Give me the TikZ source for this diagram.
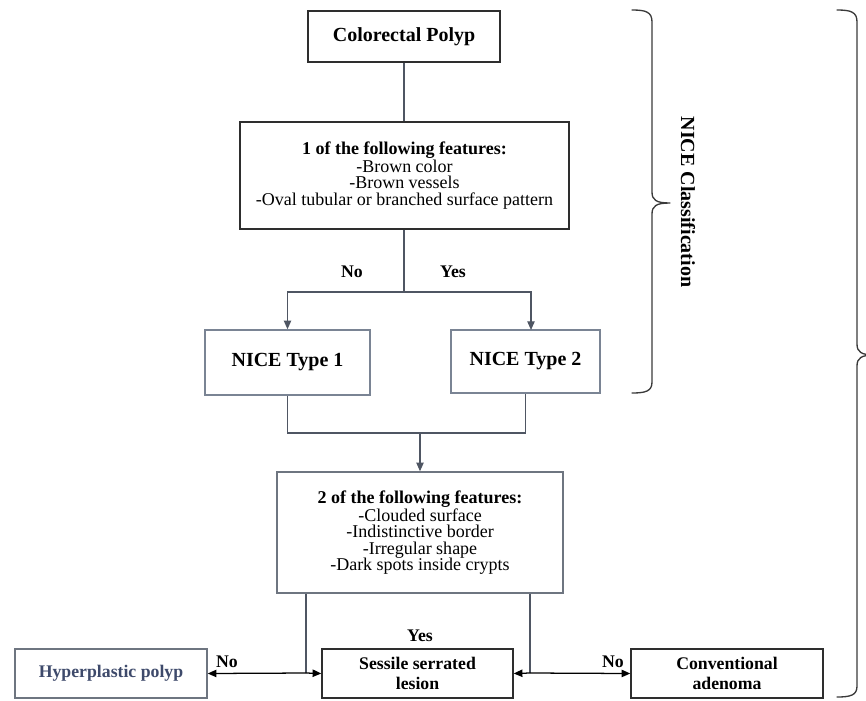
\documentclass[tikz,border=0pt]{standalone}
\usepackage{fontspec}
\setmainfont{Liberation Serif}
\usetikzlibrary{arrows.meta,calc}
\definecolor{linec}{HTML}{4F5663}
\definecolor{boxdark}{HTML}{2E2E2E}
\definecolor{boxblue}{HTML}{7A8494}
\definecolor{boxgray}{HTML}{6E7580}
\definecolor{hptext}{HTML}{3E4A6B}
\definecolor{bracec}{HTML}{3A3A3A}
\tikzset{
  box/.style={draw=boxdark, line width=1.1pt, inner sep=0pt, align=center, fill=white},
  bigfont/.style={font=\fontsize{15}{17}\selectfont\bfseries},
  featfont/.style={font=\fontsize{13.5}{12.3}\selectfont},
  botfont/.style={font=\fontsize{13.3}{15}\selectfont\bfseries},
  lbl/.style={font=\fontsize{13.3}{15}\selectfont\bfseries, inner sep=0pt},
  conn/.style={draw=linec, line width=0.95pt},
  arr/.style={conn, -{Triangle[length=6.5pt,width=5.5pt]}},
  bracepath/.style={draw=bracec, line width=1pt, line cap=round, line join=round}
}
\begin{document}
\begin{tikzpicture}[x=0.75pt, y=-0.75pt]
\useasboundingbox (0,0) rectangle (866,700);

% boxes
\node[box, bigfont, minimum width=144pt, minimum height=38.25pt] (cp) at (404,36.5) {Colorectal Polyp};
\node[box, featfont, draw=boxdark, minimum width=246.75pt, minimum height=80.25pt] (f1) at (404.5,175.5)
  {\textbf{1 of the following features:}\\-Brown color\\-Brown vessels\\-Oval tubular or branched surface pattern};
\node[box, bigfont, draw=boxblue, minimum width=123.75pt, minimum height=48.75pt] (t1) at (287.5,362.5) {NICE Type 1};
\node[box, bigfont, draw=boxblue, minimum width=111.75pt, minimum height=47.25pt] (t2) at (525.5,361.5) {NICE Type 2};
\node[box, featfont, draw=boxgray, minimum width=214.5pt, minimum height=90.75pt] (f2) at (420,532.5)
  {\textbf{2 of the following features:}\\-Clouded surface\\-Indistinctive border\\-Irregular shape\\-Dark spots inside crypts};
\node[box, botfont, draw=boxgray, text=hptext, minimum width=144pt, minimum height=36.75pt] (hp) at (111,673.5) {Hyperplastic polyp};
\node[box, botfont, minimum width=143.25pt, minimum height=36.75pt] (ss) at (417.5,673.5) {Sessile serrated\\lesion};
\node[box, botfont, minimum width=144pt, minimum height=36.75pt] (ca) at (727,673.5) {Conventional\\adenoma};

% coordinates
\coordinate (sp) at (404,292);
\coordinate (t2in) at (531,330);
\coordinate (hj) at (404,433);
\coordinate (bl) at (306,673);
\coordinate (br) at (530,673);

% connectors
\draw[conn] (cp.south) -- (cp.south |- f1.north);
\draw[conn] (f1.south -| sp) -- (sp);
\draw[arr] (sp) -| (t1.north);
\draw[arr] (sp) -| (t2in);
\draw[conn] (t1.south) |- (hj) -| (t2.south);
\draw[arr] (f2.north |- hj) -- (f2.north);
\draw[conn] (f2.south -| bl) -- (bl);
\draw[arr, draw=black] (bl) -- (hp.east);
\draw[arr, draw=black] (bl) -- (ss.west);
\draw[conn] (f2.south -| br) -- (br);
\draw[arr, draw=black] (br) -- (ss.east);
\draw[arr, draw=black] (br) -- (ca.west);

% labels
\node[lbl] (no1) at (352,272) {No};
\node[lbl] (yes1) at (453,272) {Yes};
\node[lbl] (no2) at (227,662) {No};
\node[lbl] (yes2) at (420,636) {Yes};
\node[lbl] (no3) at (613,662) {No};

% NICE brace
\draw[bracepath] (632,10) .. controls (646,10) and (652,12) .. (652,22)
  -- (652,192) .. controls (652,200) and (656,203) .. (670,203)
  (670,203) .. controls (656,203) and (652,206) .. (652,214)
  -- (652,382) .. controls (652,391) and (646,393) .. (632,393);
\node[bigfont, rotate=-90] (nice) at (688,202) {NICE Classification};

% big brace
\draw[bracepath] (837,10) .. controls (851,10) and (857,12) .. (857,22)
  -- (857,344) .. controls (857,352) and (861,355) .. (875,355)
  (875,355) .. controls (861,355) and (857,358) .. (857,366)
  -- (857,686) .. controls (857,695) and (851,697) .. (837,697);
\end{tikzpicture}
\end{document}
